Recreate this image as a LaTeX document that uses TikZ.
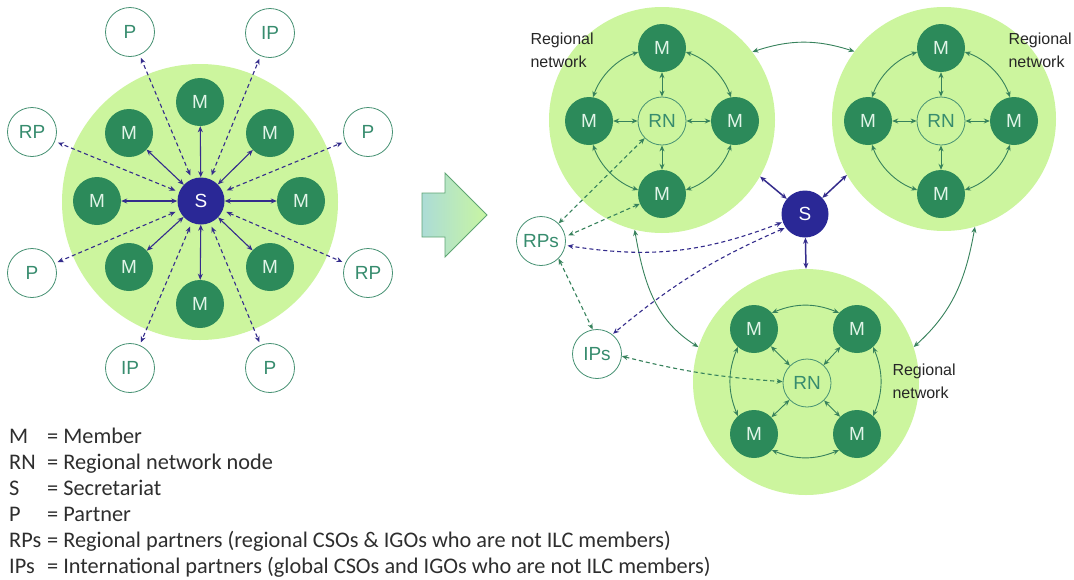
\documentclass[tikz,border=0pt]{standalone}
\usepackage{fontspec}
\setmainfont{Liberation Sans}
\newfontfamily\legfont{Carlito}
\usetikzlibrary{arrows.meta}
\definecolor{lgreen}{RGB}{204,245,158}
\definecolor{mgreen}{RGB}{44,138,90}
\definecolor{mtext}{RGB}{225,245,232}
\definecolor{sblue}{RGB}{42,40,150}
\definecolor{pgreen}{RGB}{70,145,115}
\definecolor{ptext}{RGB}{55,140,110}
\definecolor{ablue}{RGB}{52,44,140}
\definecolor{agreen}{RGB}{55,130,92}
\definecolor{arrL}{RGB}{172,220,214}
\definecolor{arrR}{RGB}{200,245,162}
\definecolor{arrS}{RGB}{95,165,115}
\begin{document}
\begin{tikzpicture}[x=1pt,y=1pt,
  >={Stealth[length=6pt,width=5pt]},
  bigc/.style={circle,fill=lgreen,minimum size=#1,inner sep=0pt},
  nfont/.style={font=\fontsize{19}{19}\selectfont},
  mem/.style={circle,fill=mgreen,minimum size=48pt,inner sep=0pt,text=mtext,nfont},
  sec/.style={circle,fill=sblue,minimum size=47pt,inner sep=0pt,text=white,nfont},
  part/.style={circle,draw=pgreen,fill=white,line width=0.8pt,minimum size=49pt,inner sep=0pt,text=ptext,nfont},
  rnode/.style={circle,draw=pgreen,line width=0.8pt,minimum size=48pt,inner sep=0pt,text=ptext,nfont},
  bsol/.style={draw=ablue,line width=1.1pt,<->},
  bsolt/.style={draw=ablue,line width=1.5pt,<->},
  bdash/.style={draw=ablue,line width=1.1pt,dash pattern=on 4pt off 3pt,<->,shorten <=4pt,shorten >=3pt},
  gsol/.style={draw=agreen,line width=0.9pt,<->},
  gdash/.style={draw=agreen,line width=1.1pt,dash pattern=on 4pt off 3pt,<->},
  rlabel/.style={align=left,font=\fontsize{16}{23}\selectfont,text=black!85},
  leg/.style={anchor=base west,inner sep=0pt,font=\legfont\fontsize{22.3}{22}\selectfont,text=black!82}
]
\useasboundingbox (0,0) rectangle (1074,-579);
\fill[white] (0,0) rectangle (1074,-579);

% ---------- left diagram ----------
\node[bigc=276pt] (bigL) at (200,-202) {};
\node[sec] (S0) at (201,-201) {S};
\node[mem] (m1) at (200,-102) {M};
\node[mem] (m2) at (129,-133) {M};
\node[mem] (m3) at (270,-133) {M};
\node[mem] (m4) at (97,-201) {M};
\node[mem] (m5) at (301,-201) {M};
\node[mem] (m6) at (129,-267) {M};
\node[mem] (m7) at (270,-267) {M};
\node[mem] (m8) at (200,-304) {M};
\node[part] (o1) at (130,-32) {P};
\node[part] (o2) at (270,-33) {IP};
\node[part] (o3) at (32,-132) {RP};
\node[part] (o4) at (368,-132) {P};
\node[part] (o5) at (32,-273) {P};
\node[part] (o6) at (368,-273) {RP};
\node[part] (o7) at (130,-368) {IP};
\node[part] (o8) at (270,-368) {P};
\foreach \m in {m1,m2,m3,m4,m5,m6,m7,m8} \draw[bsol] (S0) -- (\m);
\foreach \o in {o1,o2,o3,o4,o5,o6,o7,o8} \draw[bdash] (S0) -- (\o);

% ---------- block arrow ----------
\shade[left color=arrL,right color=arrR,draw=arrS,line width=0.9pt]
  (422,-193) -- (445,-193) -- (445,-173) -- (487,-215) -- (445,-257) -- (445,-237) -- (422,-237) -- cycle;

% ---------- right diagram ----------
\node[bigc=226pt] (bigA) at (662,-120) {};
\node[bigc=224pt] (bigB) at (944,-119) {};
\node[bigc=226pt] (bigC) at (806,-382) {};

% cluster A
\node[rnode] (rnA) at (662,-121) {RN};
\node[mem] (AT) at (662,-48) {M};
\node[mem] (AL) at (589,-121) {M};
\node[mem] (AR) at (735,-121) {M};
\node[mem] (AB) at (662,-194) {M};
\node[rlabel,anchor=north west] (labA) at (527,-29) {Regional\\network};
% cluster B
\node[rnode] (rnB) at (941,-121) {RN};
\node[mem] (BT) at (941,-48) {M};
\node[mem] (BL) at (868,-121) {M};
\node[mem] (BR) at (1014,-121) {M};
\node[mem] (BB) at (941,-194) {M};
\node[rlabel,anchor=north west] (labB) at (1005,-29) {Regional\\network};
% cluster C
\node[rnode] (rnC) at (807,-383) {RN};
\node[mem] (cTL) at (754,-329) {M};
\node[mem] (cTR) at (857,-329) {M};
\node[mem] (cBL) at (754,-434) {M};
\node[mem] (cBR) at (857,-434) {M};
\node[rlabel,anchor=north west] (labC) at (889,-360) {Regional\\network};

\foreach \c in {A,B}{
  \foreach \m in {T,L,R,B} \draw[gsol] (rn\c) -- (\c\m);
}
\foreach \c in {A,B}{
  \draw[gsol] (rn\c) ++(71:73pt) arc[start angle=71,end angle=19,radius=73pt];
  \draw[gsol] (rn\c) ++(-19:73pt) arc[start angle=-19,end angle=-71,radius=73pt];
  \draw[gsol] (rn\c) ++(-109:73pt) arc[start angle=-109,end angle=-161,radius=73pt];
  \draw[gsol] (rn\c) ++(161:73pt) arc[start angle=161,end angle=109,radius=73pt];
}
\foreach \m in {cTL,cTR,cBL,cBR} \draw[gsol] (rnC) -- (\m);
\draw[gsol] (cTL.42) to[bend left=22] (cTR.138);
\draw[gsol] (cTL.228) to[bend right=22] (cBL.132);
\draw[gsol] (cTR.312) to[bend left=22] (cBR.48);
\draw[gsol] (cBL.318) to[bend right=22] (cBR.222);

% secretariat and partners
\node[sec] (S1) at (805,-214) {S};
\node[part] (RPs) at (541,-241) {RPs};
\node[part] (IPs) at (597,-354) {IPs};

% inter-cluster
\draw[gsol] (bigA.37) to[bend left=18] (bigB.143);
\draw[gsol] (bigA.256) to[out=-80,in=148] (bigC.162);
\draw[gsol] (bigB.286) to[out=-100,in=42] (bigC.18);

\draw[bsolt] (S1) -- (bigA.-30);
\draw[bsolt] (S1) -- (bigB.210);
\draw[bsolt] (S1) -- (bigC.north);

\draw[gdash] (rnA) -- (RPs.45);
\draw[gdash,shorten >=3pt] (AB) -- (RPs.10);
\draw[bdash,shorten <=1pt,shorten >=2pt] (S1.200) to[bend left=15] (RPs.-10);
\draw[bdash,shorten <=1pt,shorten >=1pt] (S1.215) to[bend right=8] (IPs.52);
\draw[gdash] (RPs.-45) -- (IPs.100);
\draw[gdash] (IPs.-5) to[bend right=5] (rnC);

% ---------- legend ----------
\node[leg] (l1) at (9,-443) {\makebox[38pt][l]{M}= Member};
\node[leg] (l2) at (9,-469) {\makebox[38pt][l]{RN}= Regional network node};
\node[leg] (l3) at (9,-495) {\makebox[38pt][l]{S}= Secretariat};
\node[leg] (l4) at (9,-521) {\makebox[38pt][l]{P}= Partner};
\node[leg] (l5) at (9,-547) {\makebox[38pt][l]{RPs}= Regional partners (regional CSOs \& IGOs who are not ILC members)};
\node[leg] (l6) at (9,-573) {\makebox[38pt][l]{IPs}= International partners (global CSOs and IGOs who are not ILC members)};
\end{tikzpicture}
\end{document}
